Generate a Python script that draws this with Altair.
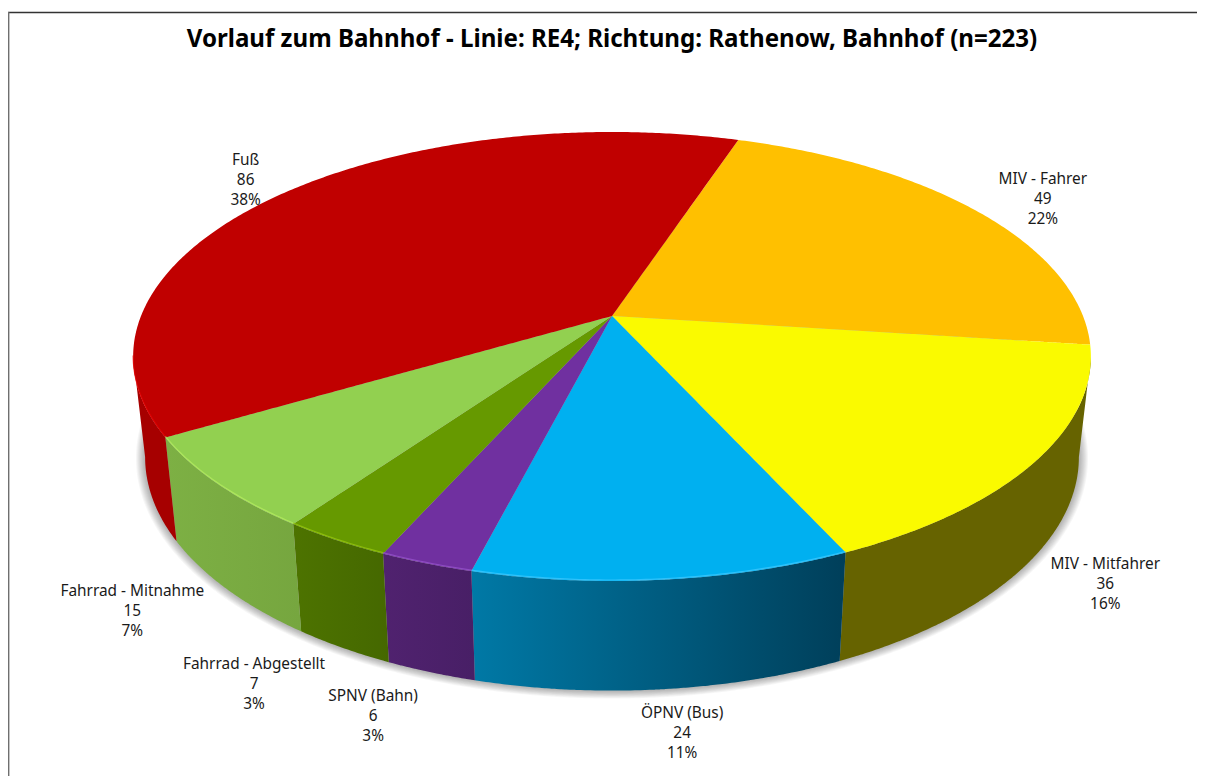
import math
import altair as alt
import pandas as pd

TITLE = "Vorlauf zum Bahnhof - Linie: RE4; Richtung: Rathenow, Bahnhof (n=223)"
names = ["MIV - Fahrer", "MIV - Mitfahrer", "ÖPNV (Bus)", "SPNV (Bahn)",
         "Fahrrad - Abgestellt", "Fahrrad - Mitnahme", "Fuß"]
values = [49, 36, 24, 6, 7, 15, 86]
percents = ["22%", "16%", "11%", "3%", "3%", "7%", "38%"]
top_colors = ["#FFC000", "#FAFA00", "#00B0F0", "#7030A0", "#669900", "#92D050", "#C00000"]
wall_stops = [None, ["#666300", "#666300"], ["#0079A6", "#003F5A"], ["#50226F", "#481F66"],
              ["#4D7300", "#456800"], ["#7DB044", "#76A63F"], ["#A60000", "#A60000"]]
rim_colors = [None, None, "#45CBFF", "#9A55D0", "#9CCC10", "#B8F060", "#E80000"]
label_offsets = [(67, -32), (69, 103), (19, 133), (-53, 133), (-82, 124), (-85, 107), (-37, -34)]

START = 18.3
CX, CY, AX, BY, P = 612, 316, 471, 217.2, -0.1804
SX, SY, DROP = 0.975, 1.04, 99
FONT = "Noto Sans"


def top(t):
    r = math.radians(t)
    u, v = math.sin(r), -math.cos(r)
    d = 1 + P * v
    return CX + AX * u / d, CY + BY * v / d


def low(t, grow=0):
    x, y = top(t)
    return CX + (SX + grow / 470) * (x - CX), CY + DROP + (SY + grow / 300) * (y - CY)


def arc(fn, a, b, **kw):
    n = max(2, int(abs(b - a) * 2))
    return [fn(a + (b - a) * i / n, **kw) for i in range(n + 1)]


def to_area(poly):
    rows = []
    for x in sorted({p[0] for p in poly}):
        ys = []
        for (x1, y1), (x2, y2) in zip(poly, poly[1:] + poly[:1]):
            if min(x1, x2) <= x <= max(x1, x2):
                if x1 == x2:
                    ys += [y1, y2]
                else:
                    ys.append(y1 + (y2 - y1) * (x - x1) / (x2 - x1))
        rows.append({"x": x, "y": min(ys), "y2": max(ys)})
    return pd.DataFrame(rows)


X = alt.X("x:Q", scale=alt.Scale(domain=[8, 1197], nice=False, zero=False), axis=None)
Y = alt.Y("y:Q", scale=alt.Scale(domain=[776, 8], nice=False, zero=False), axis=None)


def area(poly, **mark):
    return alt.Chart(to_area(poly)).mark_area(**mark).encode(x=X, y=Y, y2="y2:Q")


total = sum(values)
bounds = [START]
for val in values:
    bounds.append(bounds[-1] + val * 360 / total)

T_R = math.degrees(math.acos(P))
T_L = 360 - T_R

layers = []
for g in range(9, 0, -1):
    layers.append(area(arc(low, 0, 359.5, grow=g), color="#000000", opacity=0.035))

for i in range(len(values)):
    a, b = max(bounds[i], T_R), min(bounds[i + 1], T_L)
    if wall_stops[i] is None or a >= b:
        continue
    poly = arc(top, a, b) + arc(low, b, a)
    layers.append(area(poly, color=alt.Gradient(
        gradient="linear", x1=0, x2=1, y1=0, y2=0,
        stops=[alt.GradientStop(offset=0, color=wall_stops[i][0]),
               alt.GradientStop(offset=1, color=wall_stops[i][1])])))

for i in range(len(values)):
    poly = [(CX, CY)] + arc(top, bounds[i], bounds[i + 1])
    layers.append(area(poly, color=top_colors[i]))

for i in range(len(values)):
    a, b = max(bounds[i], T_R), min(bounds[i + 1], T_L)
    if rim_colors[i] is None or a >= b:
        continue
    pts = [(x, y - 1) for x, y in arc(top, a, b)]
    layers.append(alt.Chart(pd.DataFrame(pts, columns=["x", "y"]))
                  .mark_line(color=rim_colors[i], strokeWidth=1.2, opacity=0.7)
                  .encode(x=X, y=Y))

for i, name in enumerate(names):
    ax, ay = top((bounds[i] + bounds[i + 1]) / 2)
    dx, dy = label_offsets[i]
    df = pd.DataFrame({"x": [ax], "y": [ay], "t": [f"{name}\n{values[i]}\n{percents[i]}"]})
    layers.append(alt.Chart(df).mark_text(
        font=FONT, fontSize=15.4, color="#1a1a1a", lineBreak="\n", lineHeight=20,
        align="center", baseline="middle", dx=dx, dy=dy).encode(x=X, y=Y, text="t:N"))

layers.append(alt.Chart(pd.DataFrame({"t": [TITLE]})).mark_text(
    font=FONT, fontSize=24.1, fontWeight="bold", color="#000000", align="center",
    baseline="middle").encode(x=alt.value(604), y=alt.value(32), text="t:N"))

layers.append(alt.Chart(pd.DataFrame({"a": [0]})).mark_rule(color="#333333", strokeWidth=1.4).encode(
    x=alt.value(0), x2=alt.value(1189), y=alt.value(4.5)))
layers.append(alt.Chart(pd.DataFrame({"a": [0]})).mark_rule(color="#6f6f6f", strokeWidth=1.6).encode(
    x=alt.value(0.6), y=alt.value(4), y2=alt.value(768)))

chart = alt.layer(*layers).properties(
    width=1189, height=768, padding=0, autosize="none", background="white"
).configure_view(stroke=None)

chart.save("out.html", embed_options={"renderer": "svg", "actions": False})
